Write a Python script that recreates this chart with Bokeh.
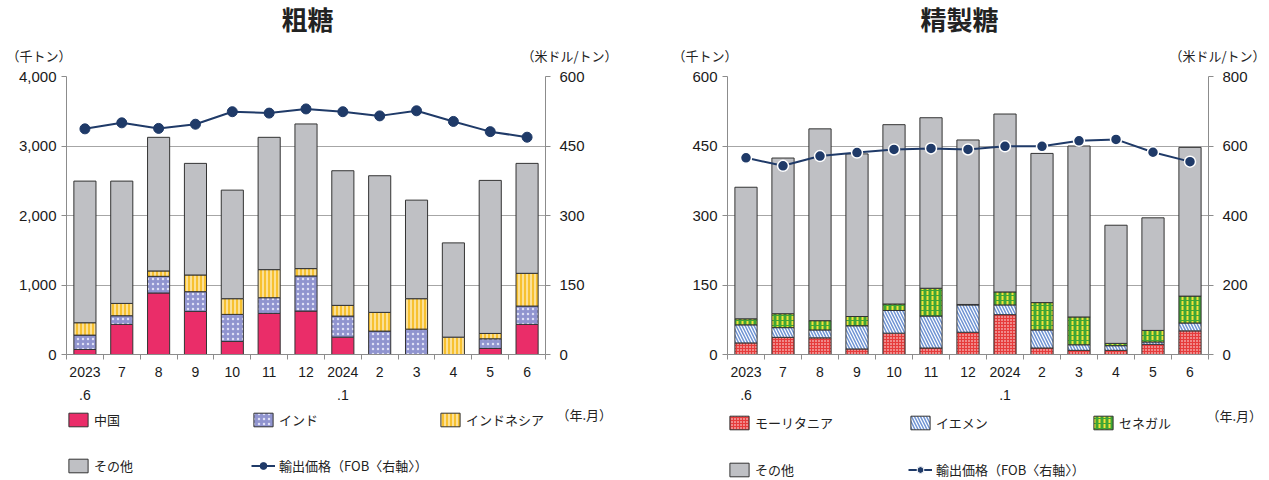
import numpy as np
from bokeh.plotting import figure
from bokeh.models import (Range1d, LinearAxis, FixedTicker, NumeralTickFormatter,
                          Label, Legend, LegendItem)
from bokeh.layouts import row, column
from bokeh.embed import file_html
from bokeh.resources import INLINE

# ---------------- data ----------------
months = ["2023\n.6", "7", "8", "9", "10", "11", "12", "2024\n.1", "2", "3", "4", "5", "6"]

# 粗糖 (thousand tons) and price (USD/t)
raw_china = [72, 433, 885, 620, 188, 591, 625, 250, 0, 0, 0, 87, 433]
raw_india = [207, 125, 240, 284, 389, 226, 505, 303, 337, 365, 0, 139, 264]
raw_indonesia = [178, 177, 77, 240, 226, 404, 106, 154, 269, 438, 250, 77, 471]
raw_other = [2038, 1760, 1923, 1606, 1562, 1904, 2081, 1937, 1966, 1418, 1356, 2202, 1582]
raw_price = [487, 500, 488, 497, 524, 521, 530, 524, 515, 526, 503, 481, 469]

# 精製糖 (thousand tons) and price (USD/t)
ref_mauritania = [25, 37, 36, 12, 46, 14, 48, 86, 14, 9, 9, 22, 51]
ref_yemen = [39, 21, 17, 50, 49, 69, 59, 21, 39, 12, 10, 5, 17]
ref_senegal = [13, 30, 20, 20, 14, 60, 1, 28, 59, 60, 5, 25, 58]
ref_other = [284, 336, 414, 351, 387, 368, 355, 384, 322, 369, 255, 243, 321]
ref_price = [566, 543, 571, 581, 590, 593, 590, 599, 599, 615, 619, 582, 555]

raw_left_ticks = [0, 1000, 2000, 3000, 4000]
raw_right_ticks = [0, 150, 300, 450, 600]
ref_left_ticks = [0, 150, 300, 450, 600]
ref_right_ticks = [0, 200, 400, 600, 800]

JP = "Noto Sans CJK JP"
NUM = "Liberation Sans"
GRID = "#a6a6a6"
AX = "#8c8c8c"
LINE = "#1f3a68"
TXT = "#222222"

HEAD_H = 66
MAIN_H = 339
FOOT_TOP = HEAD_H + MAIN_H
FOOT_H = 480 - FOOT_TOP


def blank_fig(width, height):
    f = figure(width=width, height=height, x_range=Range1d(0, width),
               y_range=Range1d(height, 0), output_backend="svg", toolbar_location=None,
               x_axis_type=None, y_axis_type=None, min_border=0)
    f.outline_line_color = None
    f.xgrid.grid_line_color = None
    f.ygrid.grid_line_color = None
    return f


def add_text(f, px, py, text, size, bold=False, align="left"):
    f.add_layout(Label(x=px, y=py, text=text, text_font_size=size,
                       text_font_style="bold" if bold else "normal",
                       text_align=align, text_baseline="middle", text_font=JP,
                       text_color=TXT))


def make_fig(width, bl, br, ymax, y2max, lticks, rticks, lfmt):
    p = figure(width=width, height=MAIN_H, x_range=Range1d(0.5, 13.5),
               y_range=Range1d(0, ymax), output_backend="svg", toolbar_location=None,
               min_border_left=bl, min_border_right=br, min_border_top=76 - HEAD_H,
               min_border_bottom=FOOT_TOP - 354)
    p.outline_line_color = None
    p.extra_y_ranges = {"price": Range1d(0, y2max)}
    p.xgrid.grid_line_color = None
    p.ygrid.grid_line_color = GRID
    p.ygrid.ticker = FixedTicker(ticks=lticks)
    ya = p.yaxis[0]
    ya.ticker = FixedTicker(ticks=lticks)
    if lfmt:
        ya.formatter = NumeralTickFormatter(format="0,0")
    ax2 = LinearAxis(y_range_name="price", ticker=FixedTicker(ticks=rticks))
    p.add_layout(ax2, "right")
    for a in (ya, ax2):
        a.axis_line_color = AX
        a.major_tick_line_color = AX
        a.major_tick_out = 5
        a.major_tick_in = 0
        a.minor_tick_out = 0
        a.minor_tick_in = 0
        a.major_label_text_font = NUM
        a.major_label_text_font_size = "15px"
        a.major_label_text_color = "#1a1a1a"
    ya.major_label_standoff = 5
    ax2.major_label_standoff = 9
    xa = p.xaxis[0]
    xa.ticker = FixedTicker(ticks=list(range(1, 14)),
                            minor_ticks=[i + 0.5 for i in range(0, 14)])
    xa.major_label_overrides = {i + 1: m for i, m in enumerate(months)}
    xa.axis_line_color = AX
    xa.major_tick_out = 0
    xa.major_tick_in = 0
    xa.minor_tick_out = 5
    xa.minor_tick_in = 0
    xa.minor_tick_line_color = AX
    xa.major_label_text_font = NUM
    xa.major_label_text_font_size = "14px"
    xa.major_label_text_color = "#1a1a1a"
    xa.major_label_text_line_height = 1.45
    xa.major_label_standoff = 4
    return p


def stack(p, xs, series, styles, visible=True):
    bottom = np.zeros(len(xs))
    rs = []
    for vals, st in zip(series, styles):
        top = bottom + np.array(vals, dtype=float)
        r = p.vbar(x=xs, bottom=bottom, top=top, width=0.6, line_color="#333333",
                   line_width=1, visible=visible, **st)
        rs.append(r)
        bottom = top
    return rs


def footer(width, labels, series, price, styles, cols, row_y, nianyue_xy, marker_outline):
    # hidden legend proxies (same data, not drawn) give the legend its swatches
    f = blank_fig(width, FOOT_H)
    proxies = stack(f, xs, series, styles, visible=False)
    ln = f.line(xs, price, line_color=LINE, line_width=2, visible=False)
    sc = f.scatter(xs, price, size=8, fill_color=LINE, visible=False,
                   line_color="#ffffff" if marker_outline else LINE, line_width=1)
    entries = [(labels[0], [proxies[0]], cols[0], row_y[0]),
               (labels[1], [proxies[1]], cols[1], row_y[0]),
               (labels[2], [proxies[2]], cols[2], row_y[0]),
               (labels[3], [proxies[3]], cols[0], row_y[1]),
               (labels[4], [ln, sc], cols[1], row_y[1])]
    for lab, rs, cx, cy in entries:
        leg = Legend(items=[LegendItem(label=lab, renderers=rs)],
                     location=(cx, FOOT_H - (cy - FOOT_TOP) - 9),
                     glyph_width=24, glyph_height=17, label_standoff=4, padding=0,
                     margin=0, border_line_color=None, background_fill_alpha=0,
                     label_text_font=JP, label_text_font_size="13px", spacing=0,
                     label_text_color=TXT, inactive_fill_alpha=0)
        f.add_layout(leg)
    add_text(f, nianyue_xy[0], nianyue_xy[1] - FOOT_TOP, "（年.月）", "13px")
    return f


xs = list(range(1, 14))

r_styles = [
    dict(fill_color="#ea2d69"),
    dict(fill_color="#9094cf", hatch_pattern="dot", hatch_color="#dfe0f5", hatch_scale=5),
    dict(fill_color="#f7c130", hatch_pattern="vertical_line", hatch_color="#ffffff",
         hatch_scale=4, hatch_weight=1),
    dict(fill_color="#bfc0c4"),
]
f_styles = [
    dict(fill_color="#e63b3b", hatch_pattern="dot", hatch_color="#ffffff", hatch_scale=3),
    dict(fill_color="#ffffff", hatch_pattern="left_diagonal_line", hatch_color="#6f93d3",
         hatch_scale=6, hatch_weight=1.5),
    dict(fill_color="#3fa535", hatch_pattern="vertical_dash", hatch_color="#f2e33a",
         hatch_scale=5, hatch_weight=2),
    dict(fill_color="#bfc0c4"),
]

raw_series = [raw_china, raw_india, raw_indonesia, raw_other]
ref_series = [ref_mauritania, ref_yemen, ref_senegal, ref_other]

# ---------------- left: 粗糖 ----------------
h1 = blank_fig(634, HEAD_H)
add_text(h1, 307, 18, "粗糖", "26px", bold=True, align="center")
add_text(h1, 6, 55, "（千トン）", "13px")
add_text(h1, 521, 55, "（米ドル/トン）", "13px")

p1 = make_fig(634, 66, 89, 4000, 600, raw_left_ticks, raw_right_ticks, True)
stack(p1, xs, raw_series, r_styles)
p1.line(xs, raw_price, y_range_name="price", line_color=LINE, line_width=2)
p1.scatter(xs, raw_price, y_range_name="price", size=10, fill_color=LINE, line_color=LINE)

f1 = footer(634, ["中国", "インド", "インドネシア", "その他", "輸出価格（FOB〈右軸〉）"],
            raw_series, raw_price, r_styles, [66, 251, 438], [420, 466], (556, 414), False)

# ---------------- right: 精製糖 ----------------
h2 = blank_fig(635, HEAD_H)
add_text(h2, 325, 18, "精製糖", "26px", bold=True, align="center")
add_text(h2, 38, 55, "（千トン）", "13px")
add_text(h2, 535, 55, "（米ドル/トン）", "13px")

p2 = make_fig(635, 93, 61, 600, 800, ref_left_ticks, ref_right_ticks, False)
stack(p2, xs, ref_series, f_styles)
p2.line(xs, ref_price, y_range_name="price", line_color=LINE, line_width=2)
p2.scatter(xs, ref_price, y_range_name="price", size=11, fill_color=LINE,
           line_color="#ffffff", line_width=1.5)

f2 = footer(635, ["モーリタニア", "イエメン", "セネガル", "その他", "輸出価格（FOB〈右軸〉）"],
            ref_series, ref_price, f_styles, [93, 274, 457], [423, 470], (572, 415), True)

layout = column(row(h1, h2), row(p1, p2), row(f1, f2))
open("out.html", "w").write(file_html(layout, INLINE))
